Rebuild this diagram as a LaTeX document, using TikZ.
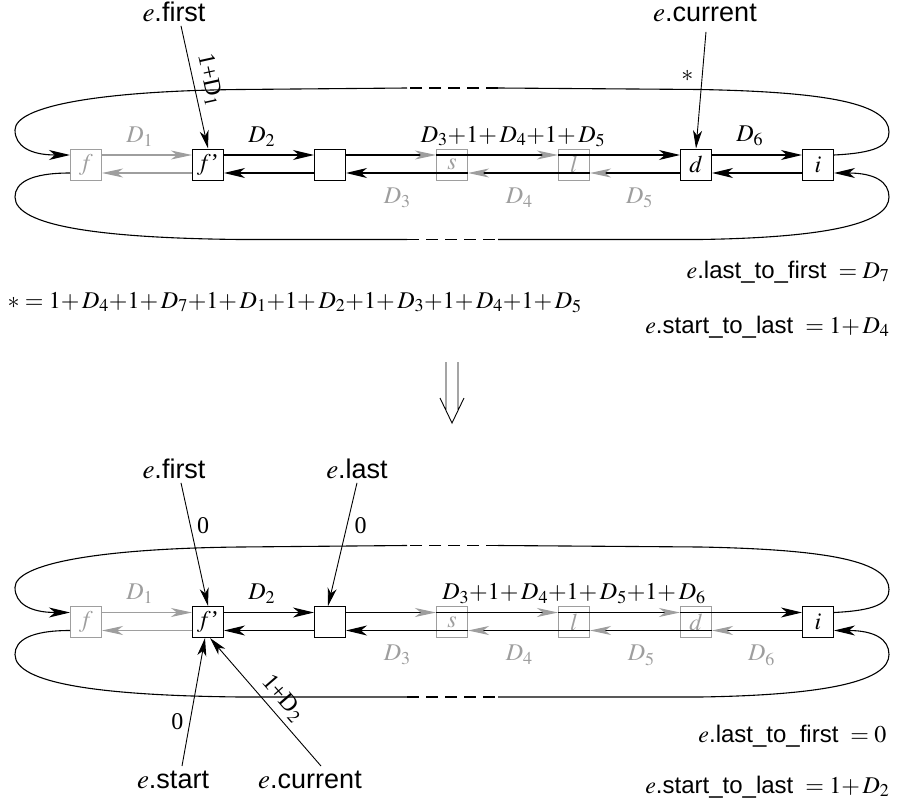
\documentclass[tikz,border=0pt]{standalone}
\usepackage{mathptmx}
\usepackage{fontspec}
\setmainfont{Liberation Serif}
\setsansfont{Liberation Sans}
\usetikzlibrary{arrows.meta}
\DeclareMathSizes{24}{24}{18}{14}
\definecolor{gr}{gray}{0.62}
\newcommand{\pl}{{+}}
\tikzset{
  every node/.style={font=\fontsize{24}{28}\selectfont},
  box/.style={draw, line width=1pt, minimum size=31pt, inner sep=0pt},
  gbox/.style={box, draw=gr, text=gr},
  ln/.style={line width=1.1pt},
  bk/.style={ln, -{Stealth[length=21pt,width=10pt,inset=6pt]}},
  gh/.style={ln, -{Stealth[length=21pt,width=9pt,inset=6pt,color=gr]}},
  gl/.style={ln, draw=gr, -{Stealth[length=21pt,width=9pt,inset=6pt]}},
  ptr/.style={line width=0.9pt, -{Stealth[length=18pt,width=9pt,inset=5pt]}},
  ptrb/.style={line width=0.9pt, {Stealth[length=18pt,width=9pt,inset=5pt]}-},
  dsh/.style={ln, dash pattern=on 12pt off 7pt},
  lab/.style={anchor=base, font=\fontsize{27}{32}\selectfont},
  fml/.style={font=\fontsize{24}{28}\selectfont},
  glab/.style={text=gr},
  up/.style={above=5pt, pos=.42},
  dn/.style={below=11pt, text=gr},
}
\begin{document}
\begin{tikzpicture}[x=1pt,y=-1pt]
\useasboundingbox (0,0) rectangle (898,803);

% ================= TOP DIAGRAM =================
\node[gbox] (f)  at (86,164.5)  {$f$};
\node[box]  (fp) at (208,164.5) {$f$'};
\node[box]  (bl) at (330,164.5) {};
\node[gbox] (s)  at (452,164.5) {$s$};
\node[gbox] (l)  at (574,164.5) {$l$};
\node[box]  (d)  at (696,164.5) {$d$};
\node[box]  (i)  at (818,164.5) {$i$};

% upper line (left to right)
\draw[gl] ([yshift=9.5pt]f.east) -- node[up, glab]{$D_1$} ([yshift=9.5pt]fp.west);
\draw[bk] ([yshift=9.5pt]fp.east) -- node[up]{$D_2$} ([yshift=9.5pt]bl.west);
\draw[gh] ([yshift=9.5pt]bl.east) -- ([yshift=9.5pt]s.west);
\draw[gh] ([yshift=9.5pt]s.west) -- ([yshift=9.5pt]l.west);
\draw[bk] ([yshift=9.5pt]l.west) -- ([yshift=9.5pt]d.west);
\path ([yshift=9.5pt]bl.east) -- node[up, pos=.5]{$D_3\pl1\pl\,D_4\pl1\pl\,D_5$} ([yshift=9.5pt]d.west);
\draw[bk] ([yshift=9.5pt]d.east) -- node[up]{$D_6$} ([yshift=9.5pt]i.west);

% lower line (right to left)
\draw[bk] ([yshift=-8.5pt]i.west) -- ([yshift=-8.5pt]d.east);
\draw[gh] ([yshift=-8.5pt]d.west) -- node[dn, pos=.45]{$D_5$} ([yshift=-8.5pt]l.east);
\draw[gh] ([yshift=-8.5pt]l.east) -- node[dn, pos=.58]{$D_4$} ([yshift=-8.5pt]s.east);
\draw[bk] ([yshift=-8.5pt]s.east) -- node[dn, pos=.58]{$D_3$} ([yshift=-8.5pt]bl.east);
\draw[bk] ([yshift=-8.5pt]bl.west) -- ([yshift=-8.5pt]fp.east);
\draw[gl] ([yshift=-8.5pt]fp.west) -- ([yshift=-8.5pt]f.east);

% loops
\coordinate (tR) at (498,88);
\coordinate (tL) at (407,88);
\coordinate (bL) at (407,239.5);
\coordinate (bR) at (498,239.5);
\draw[ln] ([yshift=9.5pt]i.east) .. controls (875,153) and (889,146) .. (889,132)
   .. controls (889,104) and (830,92) .. (700,89.5) -- (tR);
\draw[dsh] (tR) -- (tL);
\draw[bk] (tL) -- (240,89.5) .. controls (100,91) and (15,106) .. (15,130)
   .. controls (15,146) and (30,155) .. ([yshift=9.5pt]f.west);
\draw[ln] ([yshift=-8.5pt]f.west) .. controls (30,173) and (15,183) .. (15,197)
   .. controls (15,226) and (100,238) .. (240,239.5) -- (bL);
\draw[dsh] (bL) -- (bR);
\draw[bk] (bR) -- (700,239.5) .. controls (830,237.5) and (889,223) .. (889,197)
   .. controls (889,182) and (875,173) .. ([yshift=-8.5pt]i.east);

% pointers
\node[lab] (efirst) at (174,21) {$e$\textsf{.first}};
\node[lab] (ecur) at (705,21) {$e$\textsf{.current}};
\draw[ptr] ([xshift=7pt,yshift=-1pt]efirst.south) -- node[sloped, above=3pt, pos=.47]{1+D$_1$} (fp.north);
\draw[ptr] ([xshift=1pt,yshift=-7pt]ecur.south) -- node[left=5pt, pos=.38]{$*$} (d.north);

% formulas
\node[fml, anchor=base east] (ltf) at (893,278) {$e$\textsf{.last\_to\_first}\ \ $=D_7$};
\node[fml, anchor=base east] (stl) at (893,333) {$e$\textsf{.start\_to\_last}\ \ $=1\pl\,D_4$};
\node[fml, anchor=base west] (star) at (4,308) {$*=1\pl\,D_4\pl1\pl\,D_7\pl1\pl\,D_1\pl1\pl\,D_2\pl1\pl\,D_3\pl1\pl\,D_4\pl1\pl\,D_5$};

% big down arrow
\draw[line width=0.9pt] (446,362) -- (446,410.5) (458,362) -- (458,410.5)
  (440,398) -- (452,423) -- (464,398);

% ================= BOTTOM DIAGRAM =================
\node[gbox] (f2)  at (86,622)  {$f$};
\node[box]  (fp2) at (208,622) {$f$'};
\node[box]  (bl2) at (330,622) {};
\node[gbox] (s2)  at (452,622) {$s$};
\node[gbox] (l2)  at (574,622) {$l$};
\node[gbox] (d2)  at (696,622) {$d$};
\node[box]  (i2)  at (818,622) {$i$};

\draw[gl] ([yshift=9.5pt]f2.east) -- node[up, glab]{$D_1$} ([yshift=9.5pt]fp2.west);
\draw[bk] ([yshift=9.5pt]fp2.east) -- node[up]{$D_2$} ([yshift=9.5pt]bl2.west);
\draw[gh] ([yshift=9.5pt]bl2.east) -- ([yshift=9.5pt]s2.west);
\draw[gh] ([yshift=9.5pt]s2.west) -- ([yshift=9.5pt]l2.west);
\draw[gh] ([yshift=9.5pt]l2.west) -- ([yshift=9.5pt]d2.west);
\draw[bk] ([yshift=9.5pt]d2.west) -- ([yshift=9.5pt]i2.west);
\path ([yshift=9.5pt]bl2.east) -- node[up, pos=.5]{$D_3\pl1\pl\,D_4\pl1\pl\,D_5\pl1\pl\,D_6$} ([yshift=9.5pt]i2.west);

\draw[gh] ([yshift=-8.5pt]i2.west) -- node[dn, pos=.45]{$D_6$} ([yshift=-8.5pt]d2.east);
\draw[gh] ([yshift=-8.5pt]d2.east) -- node[dn, pos=.58]{$D_5$} ([yshift=-8.5pt]l2.east);
\draw[gh] ([yshift=-8.5pt]l2.east) -- node[dn, pos=.58]{$D_4$} ([yshift=-8.5pt]s2.east);
\draw[bk] ([yshift=-8.5pt]s2.east) -- node[dn, pos=.58]{$D_3$} ([yshift=-8.5pt]bl2.east);
\draw[bk] ([yshift=-8.5pt]bl2.west) -- ([yshift=-8.5pt]fp2.east);
\draw[gl] ([yshift=-8.5pt]fp2.west) -- ([yshift=-8.5pt]f2.east);

\coordinate (tR2) at (498,545.5);
\coordinate (tL2) at (407,545.5);
\coordinate (bL2) at (407,697);
\coordinate (bR2) at (498,697);
\draw[ln] ([yshift=9.5pt]i2.east) .. controls (875,610.5) and (889,603.5) .. (889,589.5)
   .. controls (889,561.5) and (830,549.5) .. (700,547) -- (tR2);
\draw[dsh] (tR2) -- (tL2);
\draw[bk] (tL2) -- (240,547) .. controls (100,548.5) and (15,563.5) .. (15,587.5)
   .. controls (15,603.5) and (30,612.5) .. ([yshift=9.5pt]f2.west);
\draw[ln] ([yshift=-8.5pt]f2.west) .. controls (30,630.5) and (15,640.5) .. (15,654.5)
   .. controls (15,683.5) and (100,695.5) .. (240,697) -- (bL2);
\draw[dsh] (bL2) -- (bR2);
\draw[bk] (bR2) -- (700,697) .. controls (830,695) and (889,680.5) .. (889,654.5)
   .. controls (889,639.5) and (875,630.5) .. ([yshift=-8.5pt]i2.east);

\node[lab] (efirst2) at (174,478) {$e$\textsf{.first}};
\node[lab] (elast2) at (357,478) {$e$\textsf{.last}};
\node[lab] (estart2) at (173,788) {$e$\textsf{.start}};
\node[lab] (ecur2) at (310,788) {$e$\textsf{.current}};
\draw[ptr] ([xshift=7pt,yshift=-1pt]efirst2.south) -- node[right=3pt, pos=.35]{0} (fp2.north);
\draw[ptr] ([yshift=-1pt]elast2.south) -- node[right=4pt, pos=.35]{0} ([xshift=-2pt]bl2.north);
\draw[ptr] ([xshift=9pt,yshift=1pt]estart2.north) -- node[left=3pt, pos=.35]{0} ([xshift=-3pt]fp2.south);
\draw[ptrb] ([xshift=2pt]fp2.south) -- node[sloped, above=2pt, pos=.55]{1+D$_2$} ([xshift=11pt,yshift=1pt]ecur2.north);

\node[fml, anchor=base east] (ltf2) at (890,742) {$e$\textsf{.last\_to\_first}\ \ $=0$};
\node[fml, anchor=base east] (stl2) at (893,793) {$e$\textsf{.start\_to\_last}\ \ $=1\pl\,D_2$};
\end{tikzpicture}
\end{document}
